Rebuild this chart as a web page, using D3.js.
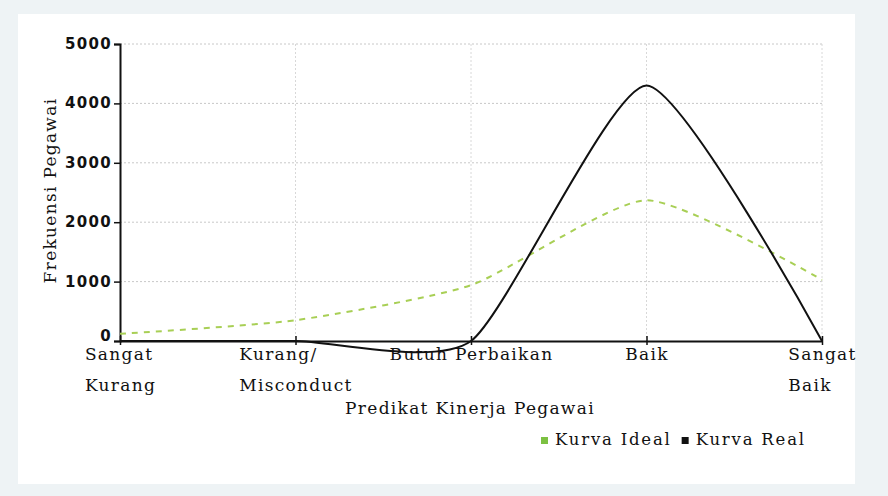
<!DOCTYPE html>
<html>
<head>
<meta charset="utf-8">
<script src="https://cdn.jsdelivr.net/npm/d3@7"></script>
<style>
  body { margin: 0; background: #eef3f5; }
  svg { display: block; }
</style>
</head>
<body>
<svg width="888" height="496"></svg>
<script>
// kategori predikat kinerja
let categories = ['Sangat Kurang', 'Kurang/Misconduct', 'Butuh Perbaikan', 'Baik', 'Sangat Baik'];
let category_lines = [['Sangat', 'Kurang'], ['Kurang/', 'Misconduct'], ['Butuh Perbaikan'], ['Baik'], ['Sangat', 'Baik']];
let ideal_values = [120, 350, 940, 2370, 1030];
let real_values = [0, 0, 0, 4300, 0];
let y_ticks = [0, 1000, 2000, 3000, 4000, 5000];

let series = [
	{ name: 'Kurva Ideal', values: ideal_values, color: '#a8cf55', legend: '#7cc142', dash: '6,6' },
	{ name: 'Kurva Real', values: real_values, color: '#111', legend: '#111', dash: null }
];

let serif = '"DejaVu Serif", serif';
let svg = d3.select('svg');

// latar putih
svg.append('rect')
	.attr('x', 18).attr('y', 14)
	.attr('width', 837).attr('height', 470)
	.attr('fill', '#fff');

let margin = { top: 44, right: 66, bottom: 155, left: 120 };
let width = +svg.attr('width') - margin.left - margin.right;
let height = +svg.attr('height') - margin.top - margin.bottom;

let chart = svg.append('g')
	.attr('transform', 'translate(' + margin.left + ', ' + margin.top + ')');

let x = d3.scalePoint()
	.domain(categories)
	.range([0, width]);

let y = d3.scaleLinear()
	.domain([0, 5000])
	.range([height, 0]);

// grid
chart.append('g')
	.selectAll('line')
	.data(y_ticks.slice(1))
	.enter()
	.append('line')
	.attr('x1', 0).attr('x2', width)
	.attr('y1', d => y(d)).attr('y2', d => y(d))
	.attr('stroke', '#c8c8c8')
	.attr('stroke-dasharray', '2,2');

chart.append('g')
	.selectAll('line')
	.data(categories.slice(1))
	.enter()
	.append('line')
	.attr('x1', d => x(d)).attr('x2', d => x(d))
	.attr('y1', 0).attr('y2', height)
	.attr('stroke', '#d8d8d8')
	.attr('stroke-dasharray', '2,2');

// sumbu y
let yAxis = d3.axisLeft(y).tickValues(y_ticks).tickFormat(d3.format('d')).tickSize(6).tickPadding(2);
let gy = chart.append('g').call(yAxis);
gy.select('.domain').attr('stroke', '#111').attr('stroke-width', 2);
gy.selectAll('.tick line').attr('stroke', '#111').attr('stroke-width', 1.5);
gy.selectAll('.tick text')
	.attr('fill', '#111')
	.attr('dy', d => d === 0 ? '-0.05em' : '0.3em')
	.style('font-family', '"DejaVu Sans", sans-serif')
	.style('font-weight', 'bold')
	.style('font-size', '15px')
	.style('letter-spacing', '1.3px');

// sumbu x
let xAxis = d3.axisBottom(x).tickSize(0).tickFormat('');
let gx = chart.append('g')
	.attr('transform', 'translate(0, ' + height + ')')
	.call(xAxis);
gx.select('.domain').attr('stroke', '#111').attr('stroke-width', 2);
gx.selectAll('.tick').append('line')
	.attr('y1', -5).attr('y2', 4)
	.attr('stroke', '#111').attr('stroke-width', 1.5);

let labels = gx.selectAll('.tick').append('text')
	.attr('fill', '#111')
	.attr('text-anchor', 'start')
	.style('font-family', serif)
	.style('font-size', '17px')
	.style('letter-spacing', '1.3px');

labels.each(function(d, i) {
	let t = d3.select(this);
	category_lines[i].forEach(function(line, j) {
		t.append('tspan').attr('x', 0).attr('y', 19 + j * 31).text(line);
	});
	let w = this.getBBox().width;
	t.selectAll('tspan').attr('x', -w / 2);
});

// garis kurva
let line = d3.line()
	.x((d, i) => x(categories[i]))
	.y(d => y(d))
	.curve(d3.curveCardinal.tension(0.4));

series.forEach(function(s) {
	chart.append('path')
		.datum(s.values)
		.attr('fill', 'none')
		.attr('stroke', s.color)
		.attr('stroke-width', 2)
		.attr('stroke-dasharray', s.dash)
		.attr('d', line);
});

// judul sumbu
chart.append('text')
	.attr('x', 350).attr('y', height + 73)
	.attr('text-anchor', 'middle')
	.attr('fill', '#111')
	.style('font-family', serif)
	.style('font-size', '17px')
	.style('letter-spacing', '1.3px')
	.text('Predikat Kinerja Pegawai');

chart.append('text')
	.attr('transform', 'translate(-64, ' + (height / 2 - 2) + ') rotate(-90)')
	.attr('text-anchor', 'middle')
	.attr('fill', '#111')
	.style('font-family', serif)
	.style('font-size', '17px')
	.style('letter-spacing', '1.3px')
	.text('Frekuensi Pegawai');

// legenda
let legend = svg.append('g').attr('transform', 'translate(541, 444)');
let lx = 0;
series.forEach(function(s) {
	let g = legend.append('g').attr('transform', 'translate(' + lx + ', 0)');
	g.append('rect').attr('x', 0).attr('y', -7).attr('width', 7).attr('height', 7).attr('fill', s.legend);
	let t = g.append('text')
		.attr('x', 14).attr('y', 1)
		.attr('fill', '#111')
		.style('font-family', serif)
		.style('font-size', '16.5px')
		.style('letter-spacing', '1.8px')
		.text(s.name);
	lx += 14 + t.node().getComputedTextLength() + 10;
});
</script>
</body>
</html>
